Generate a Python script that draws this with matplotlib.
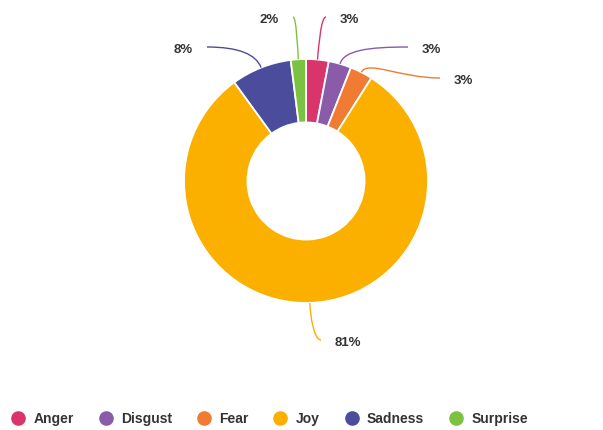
import matplotlib
matplotlib.use("Agg")
import matplotlib.pyplot as plt
from matplotlib.path import Path
from matplotlib.patches import PathPatch
from matplotlib.lines import Line2D
import numpy as np

# emotion share (%)
emotions = ["Anger", "Disgust", "Fear", "Joy", "Sadness", "Surprise"]
shares = [3, 3, 3, 81, 8, 2]
colors = ["#d9356a", "#8a5ba8", "#f07b32", "#fbb000", "#4b4d9c", "#7cc242"]

# where each data label's connector ends (pixels from top-left)
label_ends = [(326, 17), (408, 47), (440, 78), (321, 340), (207, 47), (293, 17)]

W, H = 603, 430
plt.rcParams["font.family"] = ["Liberation Sans", "DejaVu Sans"]

fig = plt.figure(figsize=(W / 100, H / 100), dpi=100)
ax = fig.add_axes([0, 0, 1, 1])

cx, cy, R = 306, H - 181, 122
wedges, _ = ax.pie(shares, colors=colors, startangle=90, counterclock=False,
                   radius=R, center=(cx, cy),
                   wedgeprops=dict(width=R * 0.52, edgecolor="white", linewidth=1.3))

# data labels with curved connectors
for w, val, col, (ex, ey) in zip(wedges, shares, colors, label_ends):
    mid = np.deg2rad((w.theta1 + w.theta2) / 2)
    d = np.array([np.cos(mid), np.sin(mid)])
    a = np.array([cx, cy]) + d * R
    e = np.array([ex, H - ey])
    side = 1 if e[0] >= a[0] else -1
    k2 = min(40, 0.6 * abs(e[0] - a[0]))
    p1 = a + d * 14
    p2 = e - np.array([side * k2, 0])
    path = Path([a, p1, p2, e], [Path.MOVETO, Path.CURVE4, Path.CURVE4, Path.CURVE4])
    ax.add_patch(PathPatch(path, fill=False, edgecolor=col, lw=1.0))
    tx = e[0] + side * 14
    ax.text(tx, e[1] - 3, f"{val}%", ha="left" if side > 0 else "right",
            va="center", fontsize=9.5, fontweight="bold", color="#333333")

handles = [Line2D([], [], marker="o", linestyle="none", markersize=9.5,
                  markerfacecolor=c, markeredgecolor=c) for c in colors]
ax.legend(handles, emotions, ncol=6, loc="center left",
          bbox_to_anchor=(11 / W, 11 / H), frameon=False,
          handlelength=1.0, handletextpad=0.6, columnspacing=1.8,
          borderpad=0, borderaxespad=0,
          prop=dict(size=10, weight="bold"), labelcolor="#333333")

ax.set_xlim(0, W)
ax.set_ylim(0, H)
ax.set_aspect("equal")
ax.axis("off")

fig.savefig("out.png", dpi=100, facecolor="white")
